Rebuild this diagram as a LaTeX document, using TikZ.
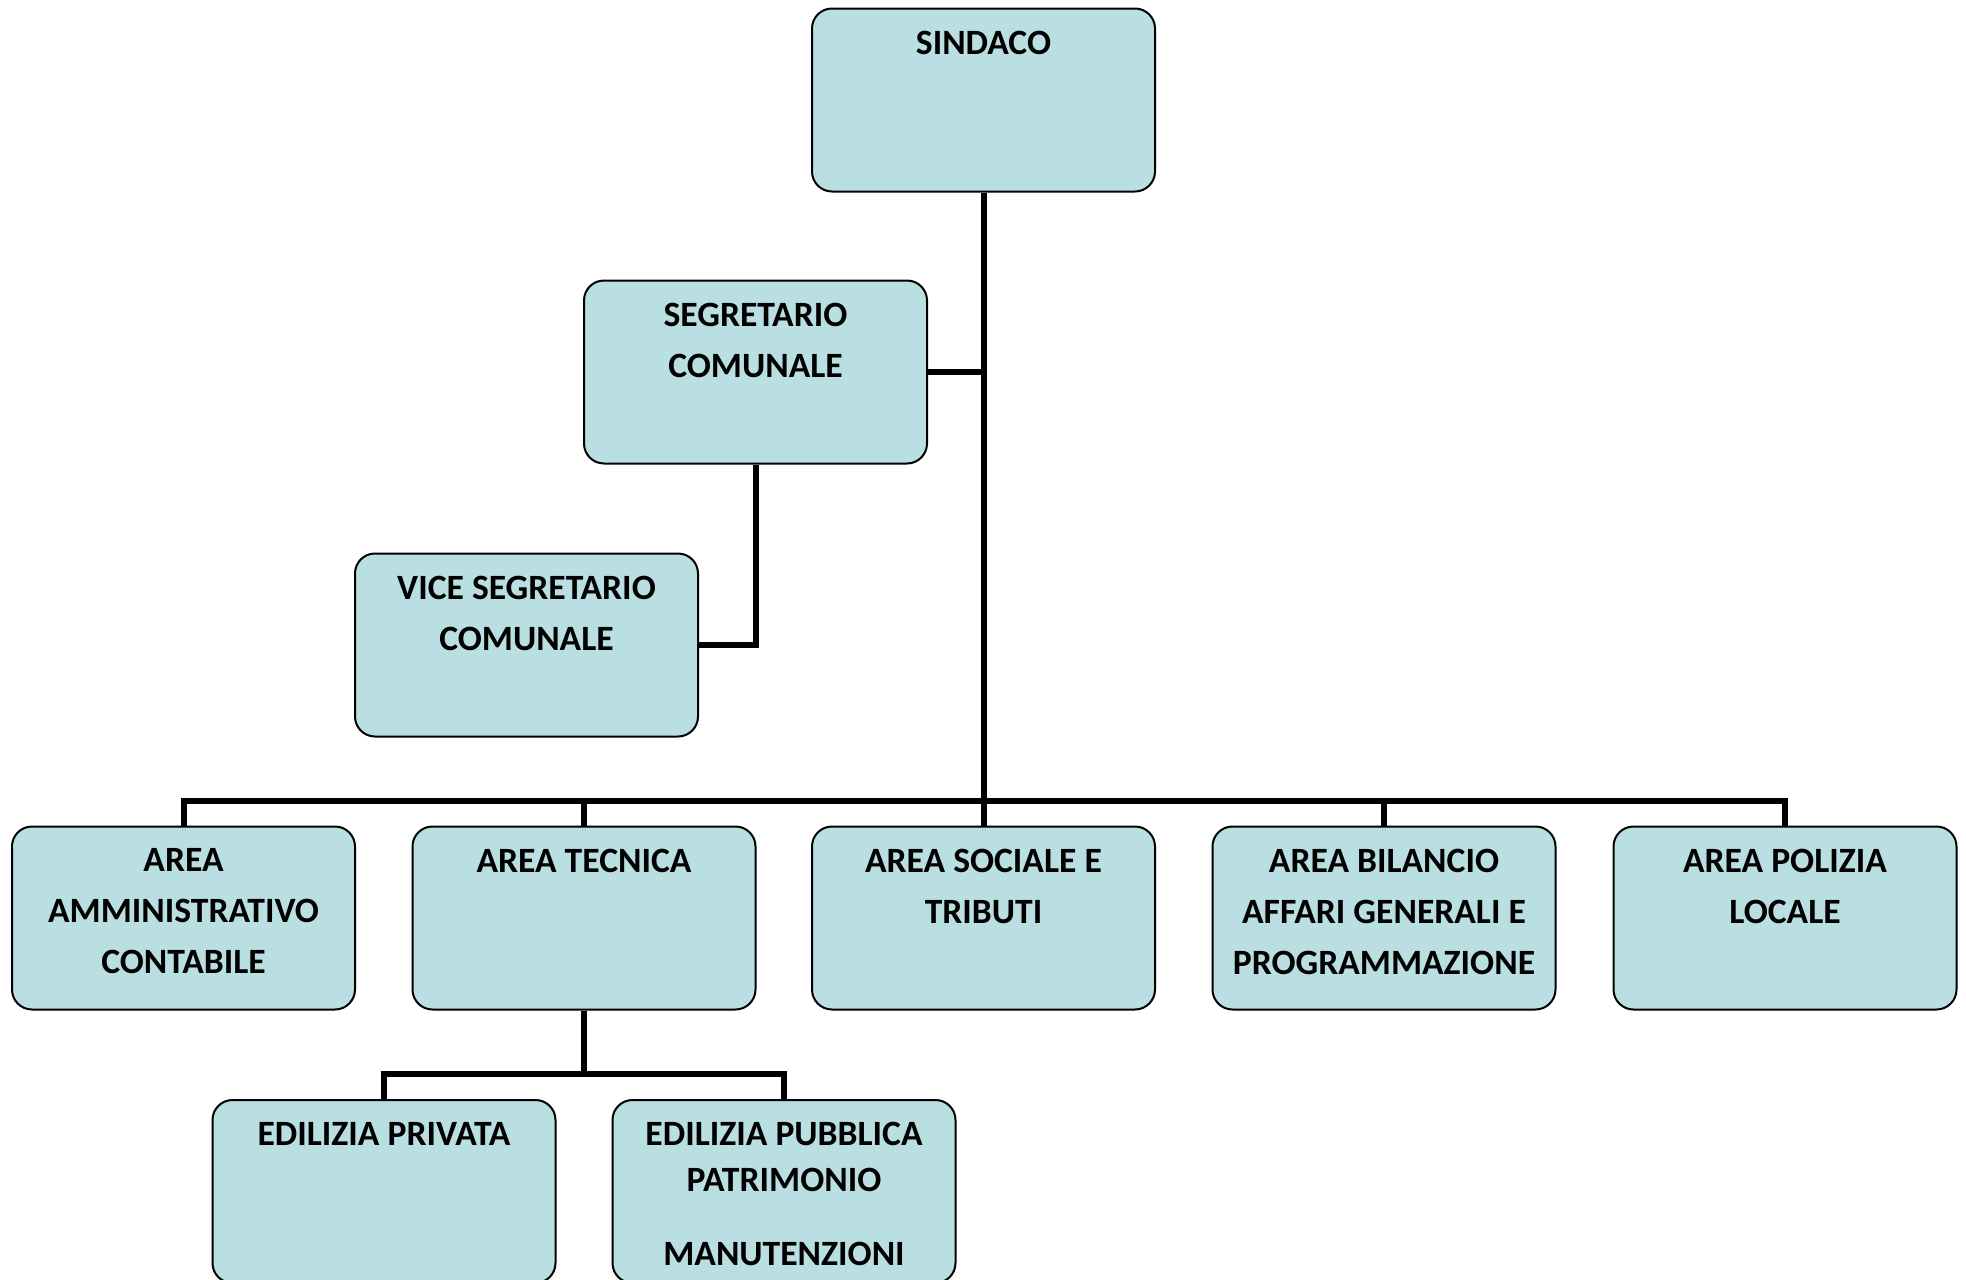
\documentclass[tikz,border=0pt]{standalone}
\usepackage{fontspec}
\setmainfont{Carlito}
\definecolor{boxfill}{RGB}{185,223,226}
\begin{document}
\begin{tikzpicture}[x=0.5pt,y=-0.5pt,
  orgbox/.style={draw=black, line width=1pt, fill=boxfill, rounded corners=10pt,
    minimum width=171.5pt, minimum height=91.5pt, inner sep=0pt},
  lbl/.style={anchor=north, inner sep=0pt, align=center,
    font=\fontsize{17.8}{25.5}\selectfont\bfseries},
  conn/.style={draw=black, line width=3pt}]
\clip (0,0) rectangle (1966,1280);
\fill[white] (0,0) rectangle (1966,1280);
% boxes
\node[orgbox] (sind) at (983.5,100) {};
\node[orgbox] (seg)  at (755.5,372) {};
\node[orgbox] (vice) at (526.5,645) {};
\node[orgbox] (amm)  at (183.5,918) {};
\node[orgbox] (tec)  at (584,918) {};
\node[orgbox] (soc)  at (983.5,918) {};
\node[orgbox] (bil)  at (1384,918) {};
\node[orgbox] (pol)  at (1785,918) {};
\node[orgbox] (epr)  at (384,1191.5) {};
\node[orgbox] (epu)  at (784,1191.5) {};
% labels
\node[lbl] (tsind) at ([yshift=-11.5pt]sind.north) {SINDACO};
\node[lbl] (tseg)  at ([yshift=-11.5pt]seg.north) {SEGRETARIO\\COMUNALE};
\node[lbl] (tvice) at ([yshift=-11.5pt]vice.north) {VICE SEGRETARIO\\COMUNALE};
\node[lbl] (tamm)  at ([yshift=-11.5pt]amm.north) {AREA\\AMMINISTRATIVO\\CONTABILE};
\node[lbl] (ttec)  at ([yshift=-11.5pt]tec.north) {AREA TECNICA};
\node[lbl] (tsoc)  at ([yshift=-11.5pt]soc.north) {AREA SOCIALE E\\TRIBUTI};
\node[lbl] (tbil)  at ([yshift=-11.5pt]bil.north) {AREA BILANCIO\\AFFARI GENERALI E\\PROGRAMMAZIONE};
\node[lbl] (tpol)  at ([yshift=-11.5pt]pol.north) {AREA POLIZIA\\LOCALE};
\node[lbl] (tepr)  at ([yshift=-11.5pt]epr.north) {EDILIZIA PRIVATA};
\node[lbl] (tepu)  at ([yshift=-11.5pt]epu.north) {EDILIZIA PUBBLICA\\[-2.5pt]PATRIMONIO\\[11.5pt]MANUTENZIONI};
% connectors
\coordinate (busA) at (983.5,801);
\coordinate (busB) at (584,1074);
\draw[conn] (sind.south) -- (busA);
\draw[conn] (seg.east) -- (seg.east -| sind.south);
\draw[conn] (seg.south) |- (vice.east);
\draw[conn] (amm.north) |- (busA);
\draw[conn] (tec.north) |- (busA);
\draw[conn] (soc.north) -- (busA);
\draw[conn] (bil.north) |- (busA);
\draw[conn] (pol.north) |- (busA);
\draw[conn] (tec.south) -- (busB);
\draw[conn] (epr.north) |- (busB);
\draw[conn] (epu.north) |- (busB);
\end{tikzpicture}
\end{document}
